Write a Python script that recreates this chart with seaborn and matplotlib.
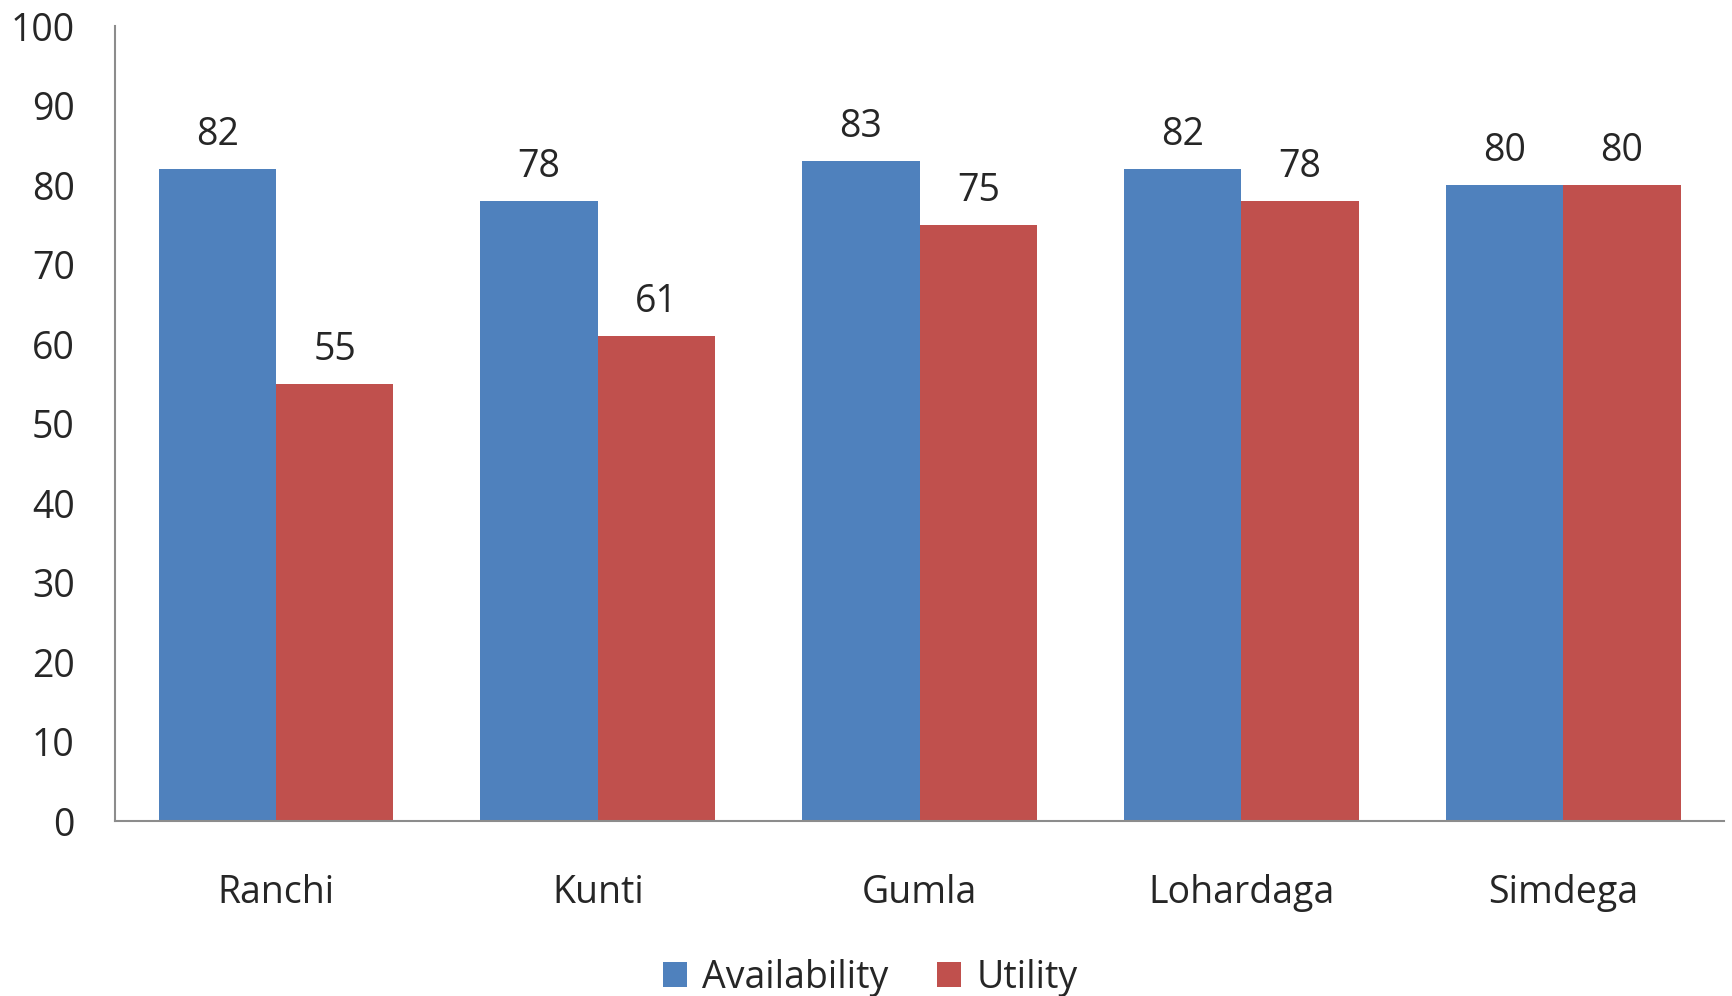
import pandas as pd
import matplotlib
matplotlib.use("Agg")
import matplotlib.pyplot as plt
import seaborn as sns

# --- data ---
districts = ['Ranchi', 'Kunti', 'Gumla', 'Lohardaga', 'Simdega']
availability = [82, 78, 83, 82, 80]
utility = [55, 61, 75, 78, 80]
series_names = ['Availability', 'Utility']
colors = ['#4F81BD', '#C0504D']

df = pd.DataFrame({
    'District': districts * 2,
    'Series': [series_names[0]] * len(districts) + [series_names[1]] * len(districts),
    'Value': availability + utility,
})

sns.set_style('white')
plt.rcParams['font.family'] = ['Open Sans', 'DejaVu Sans']
FS = 27

fig = plt.figure(figsize=(17.33, 9.96), dpi=100)
ax = fig.add_axes([0.0664, 0.1757, 0.9285, 0.798])

sns.barplot(data=df, x='District', y='Value', hue='Series', order=districts,
            hue_order=series_names, palette=colors, width=0.73, gap=0,
            saturation=1, linewidth=0, ax=ax)

for cont in ax.containers:
    ax.bar_label(cont, fmt='%d', padding=11, fontsize=FS)

ax.set_ylim(0, 100)
ax.set_yticks(range(0, 101, 10))
ax.set_xlim(-0.5, len(districts) - 0.5)
ax.set_xlabel('')
ax.set_ylabel('')
ax.tick_params(axis='y', length=0, pad=29, labelsize=FS)
ax.tick_params(axis='x', length=0, pad=38, labelsize=FS)

for side in ['top', 'right']:
    ax.spines[side].set_visible(False)
for side in ['left', 'bottom']:
    ax.spines[side].set_color('#8c8c8c')
    ax.spines[side].set_linewidth(1.5)

ax.legend_.remove()
handles, labels = ax.get_legend_handles_labels()
fig.legend(handles, labels, loc='center', bbox_to_anchor=(0.502, 0.018), ncol=2,
           frameon=False, fontsize=FS, handlelength=0.65, handleheight=0.65,
           handletextpad=0.4, columnspacing=1.3)

fig.savefig('out.png', dpi=100)
